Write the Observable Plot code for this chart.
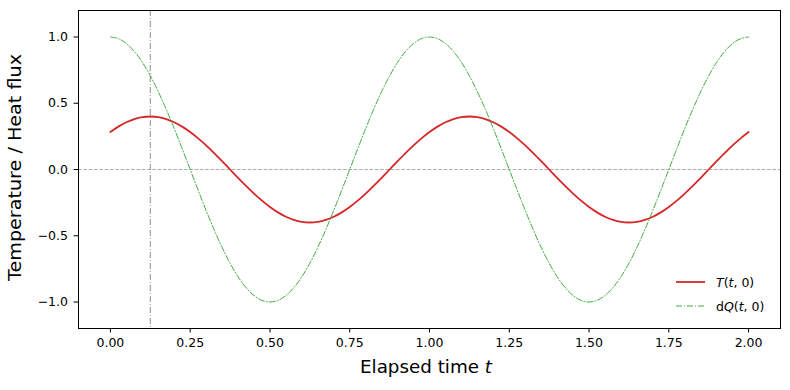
<!DOCTYPE html>
<html><head><meta charset="utf-8">
<script src="https://cdn.jsdelivr.net/npm/d3@7"></script>
<script src="https://cdn.jsdelivr.net/npm/@observablehq/plot@0.6"></script>
<style>body{margin:0;background:#fff}#chart{position:relative;width:790px;height:390px}</style>
</head><body><div id="chart"></div>
<script>
const times = [0.000,0.025,0.050,0.075,0.100,0.125,0.150,0.175,0.200,0.225,0.250,0.275,0.300,0.325,0.350,0.375,0.400,0.425,0.450,0.475,0.500,0.525,0.550,0.575,0.600,0.625,0.650,0.675,0.700,0.725,0.750,0.775,0.800,0.825,0.850,0.875,0.900,0.925,0.950,0.975,1.000,1.025,1.050,1.075,1.100,1.125,1.150,1.175,1.200,1.225,1.250,1.275,1.300,1.325,1.350,1.375,1.400,1.425,1.450,1.475,1.500,1.525,1.550,1.575,1.600,1.625,1.650,1.675,1.700,1.725,1.750,1.775,1.800,1.825,1.850,1.875,1.900,1.925,1.950,1.975,2.000];
const tempT = [0.2828,0.3236,0.3564,0.3804,0.3951,0.4000,0.3951,0.3804,0.3564,0.3236,0.2828,0.2351,0.1816,0.1236,0.0626,0.0000,-0.0626,-0.1236,-0.1816,-0.2351,-0.2828,-0.3236,-0.3564,-0.3804,-0.3951,-0.4000,-0.3951,-0.3804,-0.3564,-0.3236,-0.2828,-0.2351,-0.1816,-0.1236,-0.0626,0.0000,0.0626,0.1236,0.1816,0.2351,
0.2828,0.3236,0.3564,0.3804,0.3951,0.4000,0.3951,0.3804,0.3564,0.3236,0.2828,0.2351,0.1816,0.1236,0.0626,0.0000,-0.0626,-0.1236,-0.1816,-0.2351,-0.2828,-0.3236,-0.3564,-0.3804,-0.3951,-0.4000,-0.3951,-0.3804,-0.3564,-0.3236,-0.2828,-0.2351,-0.1816,-0.1236,-0.0626,0.0000,0.0626,0.1236,0.1816,0.2351,0.2828];
const fluxQ = [1.0000,0.9877,0.9511,0.8910,0.8090,0.7071,0.5878,0.4540,0.3090,0.1564,0.0000,-0.1564,-0.3090,-0.4540,-0.5878,-0.7071,-0.8090,-0.8910,-0.9511,-0.9877,-1.0000,-0.9877,-0.9511,-0.8910,-0.8090,-0.7071,-0.5878,-0.4540,-0.3090,-0.1564,0.0000,0.1564,0.3090,0.4540,0.5878,0.7071,0.8090,0.8910,0.9511,0.9877,
1.0000,0.9877,0.9511,0.8910,0.8090,0.7071,0.5878,0.4540,0.3090,0.1564,0.0000,-0.1564,-0.3090,-0.4540,-0.5878,-0.7071,-0.8090,-0.8910,-0.9511,-0.9877,-1.0000,-0.9877,-0.9511,-0.8910,-0.8090,-0.7071,-0.5878,-0.4540,-0.3090,-0.1564,0.0000,0.1564,0.3090,0.4540,0.5878,0.7071,0.8090,0.8910,0.9511,0.9877,1.0000];
const xTicks = [0, 0.25, 0.5, 0.75, 1.0, 1.25, 1.5, 1.75, 2.0];
const yTicks = [-1.0, -0.5, 0.0, 0.5, 1.0];
const markerTime = [0.125];
const zeroLevel = [0];

const data = times.map((t, i) => ({t, T: tempT[i], dQ: fluxQ[i]}));
const FONT = "DejaVu Sans";
const TICKFS = 12.5;

const plot = Plot.plot({
  width: 790, height: 390,
  marginLeft: 78, marginRight: 10, marginTop: 10, marginBottom: 62,
  style: {fontFamily: FONT, fontSize: TICKFS + "px", background: "white", color: "black"},
  x: {domain: [-0.1, 2.1]},
  y: {domain: [-1.2, 1.2]},
  marks: [
    Plot.ruleY(zeroLevel, {stroke: "#999999", strokeWidth: 0.8, strokeDasharray: "3.7,1.6"}),
    Plot.ruleX(markerTime, {stroke: "gray", strokeWidth: 0.9, strokeDasharray: "6,2,1,2"}),
    Plot.line(data, {x: "t", y: "T", stroke: "#d62728", strokeWidth: 1.8, curve: "catmull-rom"}),
    Plot.line(data, {x: "t", y: "dQ", stroke: "#2ca02c", strokeWidth: 0.9, strokeDasharray: "6,2,1,2", curve: "catmull-rom"}),
    Plot.axisX({ticks: xTicks, tickFormat: d3.format(".2f"), tickSize: 4.5, tickPadding: 5.5, label: null, fontSize: TICKFS, fontFamily: FONT}),
    Plot.axisY({ticks: yTicks, tickFormat: d3.format(".1f"), tickSize: 4.5, tickPadding: 6, label: null, fontSize: TICKFS, fontFamily: FONT}),
    Plot.frame({stroke: "black", strokeWidth: 1})
  ]
});
document.getElementById("chart").appendChild(plot);

const svg = d3.select(plot);
// axis labels
const xl = svg.append("text").attr("x", 426).attr("y", 373).attr("text-anchor", "middle")
  .attr("font-family", FONT).attr("font-size", 18.3).attr("fill", "black")
  .attr("textLength", 132).attr("lengthAdjust", "spacingAndGlyphs");
xl.append("tspan").text("Elapsed time ");
xl.append("tspan").attr("font-style", "italic").text("t");

svg.append("text").attr("transform", "translate(21,167.5) rotate(-90)").attr("text-anchor", "middle")
  .attr("font-family", FONT).attr("font-size", 18.3).attr("fill", "black")
  .attr("textLength", 227).attr("lengthAdjust", "spacingAndGlyphs")
  .text("Temperature / Heat flux");

// legend
const lg = svg.append("g").attr("font-family", FONT).attr("font-size", TICKFS).attr("fill", "black").attr("text-anchor", "start");
lg.append("line").attr("x1", 676).attr("x2", 705).attr("y1", 282).attr("y2", 282)
  .attr("stroke", "#d62728").attr("stroke-width", 1.8);
lg.append("line").attr("x1", 676).attr("x2", 705).attr("y1", 306).attr("y2", 306)
  .attr("stroke", "#2ca02c").attr("stroke-width", 0.9).attr("stroke-dasharray", "6,2,1,2");
const t1 = lg.append("text").attr("x", 716).attr("y", 286.5).attr("text-anchor", "start");
t1.append("tspan").attr("font-style", "italic").text("T");
t1.append("tspan").text("(");
t1.append("tspan").attr("font-style", "italic").text("t");
t1.append("tspan").text(", 0)");
const t2 = lg.append("text").attr("x", 716).attr("y", 310.5).attr("text-anchor", "start");
t2.append("tspan").text("d");
t2.append("tspan").attr("font-style", "italic").text("Q");
t2.append("tspan").text("(");
t2.append("tspan").attr("font-style", "italic").text("t");
t2.append("tspan").text(", 0)");
</script></body></html>
